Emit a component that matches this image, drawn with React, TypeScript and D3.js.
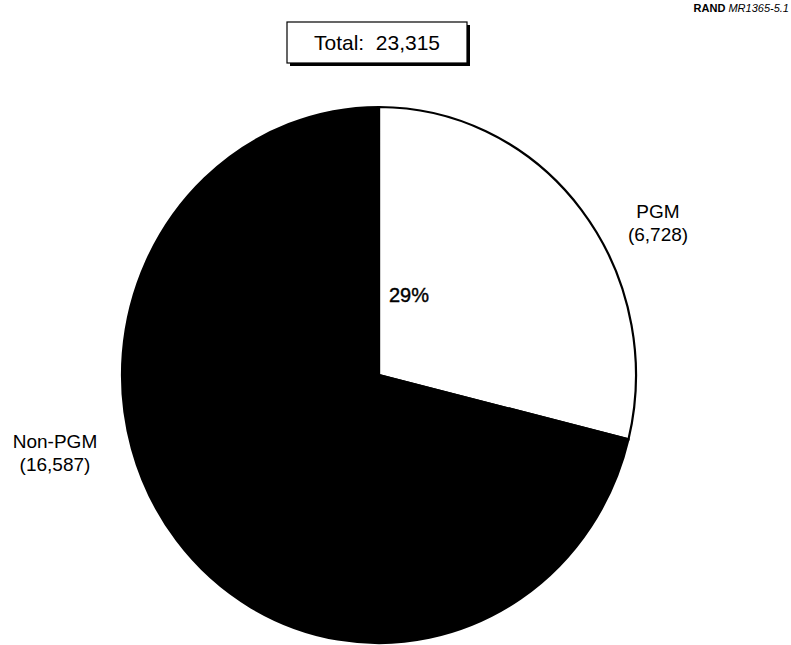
import { useEffect, useRef } from "react";
import * as d3 from "d3";

const categories = ["PGM", "Non-PGM"];
const counts = [6728, 16587];
const total = 23315;
const countLabels = ["(6,728)", "(16,587)"];
const pctLabel = "29%";

export default function App() {
  const ref = useRef<SVGSVGElement>(null);

  useEffect(() => {
    const width = 791,
      height = 645;
    const cx = 379,
      cy = 375,
      r = 257,
      ry = 268;

    const svg = d3.select(ref.current);
    svg.selectAll("*").remove();
    svg.attr("width", width).attr("height", height).style("font-family", "'Liberation Sans', Arial, sans-serif");

    svg.append("rect").attr("width", width).attr("height", height).attr("fill", "#fff");

    const data = categories.map((c, i) => ({ name: c, value: counts[i] }));
    const pie = d3.pie<{ name: string; value: number }>().sort(null).value((d) => d.value);
    const arc = d3.arc<d3.PieArcDatum<{ name: string; value: number }>>().innerRadius(0).outerRadius(r);

    // slightly taller than wide, as in the scanned original
    const g = svg
      .append("g")
      .attr("transform", `translate(${cx},${cy}) scale(1,${ry / r})`);

    g.selectAll("path")
      .data(pie(data))
      .enter()
      .append("path")
      .attr("d", arc)
      .attr("fill", (d, i) => (i === 0 ? "#fff" : "#000"))
      .attr("stroke", "#000")
      .attr("stroke-width", 2.2)
      .attr("vector-effect", "non-scaling-stroke");

    // percentage label inside PGM slice
    svg
      .append("text")
      .attr("x", 409)
      .attr("y", 302)
      .attr("text-anchor", "middle")
      .style("font-size", "20px")
      .style("stroke", "#000")
      .style("stroke-width", 0.4)
      .text(pctLabel);

    // outside labels
    const labelPos = [
      { x: 658, y: 218 },
      { x: 55, y: 448 },
    ];
    categories.forEach((c, i) => {
      const t = svg
        .append("text")
        .attr("x", labelPos[i].x)
        .attr("y", labelPos[i].y)
        .attr("text-anchor", "middle")
        .style("font-size", "19px");
      t.append("tspan").attr("x", labelPos[i].x).text(c);
      t.append("tspan").attr("x", labelPos[i].x).attr("dy", 23).text(countLabels[i]);
    });

    // total box with shadow
    svg.append("rect").attr("x", 290).attr("y", 25).attr("width", 180).attr("height", 41).attr("fill", "#000");
    svg
      .append("rect")
      .attr("x", 287)
      .attr("y", 22)
      .attr("width", 180)
      .attr("height", 41)
      .attr("fill", "#fff")
      .attr("stroke", "#000")
      .attr("stroke-width", 1.2);
    svg
      .append("text")
      .attr("x", 377)
      .attr("y", 50)
      .attr("text-anchor", "middle")
      .style("font-size", "21px")
      .style("white-space", "pre")
      .text(`Total:  ${d3.format(",")(total)}`);

    // source tag
    const tag = svg
      .append("text")
      .attr("x", 789)
      .attr("y", 12)
      .attr("text-anchor", "end")
      .style("font-size", "11px");
    tag.append("tspan").style("font-weight", "bold").text("RAND ");
    tag.append("tspan").style("font-style", "italic").text("MR1365-5.1");
  }, []);

  return <svg ref={ref} style={{ position: "absolute", left: 0, top: 0 }} />;
}
